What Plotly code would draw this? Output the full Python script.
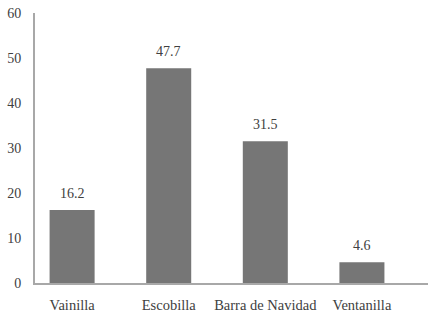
import plotly.graph_objects as go

categories = ["Vainilla", "Escobilla", "Barra de Navidad", "Ventanilla"]
values = [16.2, 47.7, 31.5, 4.6]
value_labels = ["16.2", "47.7", "31.5", "4.6"]
y_ticks = [0, 10, 20, 30, 40, 50, 60]

BAR = "#767676"
AXIS = "#a8a8a8"
TEXT = "#404040"
FONT = "'Liberation Serif', 'Times New Roman', serif"

fig = go.Figure()
fig.add_trace(go.Bar(
    x=categories, y=values, marker=dict(color=BAR, line=dict(width=0)),
    width=0.466, hoverinfo="skip",
))

for c, v, t in zip(categories, values, value_labels):
    fig.add_annotation(x=c, y=v, text=t, showarrow=False, yshift=17,
                       font=dict(family=FONT, size=14, color=TEXT))

fig.update_layout(
    width=435, height=314,
    margin=dict(l=35, r=7, t=13, b=31, autoexpand=False),
    paper_bgcolor="white", plot_bgcolor="white",
    showlegend=False,
    font=dict(family=FONT, color=TEXT),
    xaxis=dict(
        type="category", range=[-0.384, 3.684], automargin=False,
        showline=True, linecolor=AXIS, linewidth=2,
        showgrid=False, ticks="", zeroline=False,
        tickfont=dict(family=FONT, size=14.5, color=TEXT),
        ticklabelstandoff=8, ticklabeloverflow="allow",
    ),
    yaxis=dict(
        range=[0, 60], tickvals=y_ticks, automargin=False,
        showline=True, linecolor=AXIS, linewidth=2,
        showgrid=False, ticks="", zeroline=False,
        tickfont=dict(family=FONT, size=14, color=TEXT),
        ticklabelstandoff=9, ticklabeloverflow="allow",
    ),
)

fig.write_html("out.html", config={"displayModeBar": False},
               post_script="document.body.style.margin='0';")
